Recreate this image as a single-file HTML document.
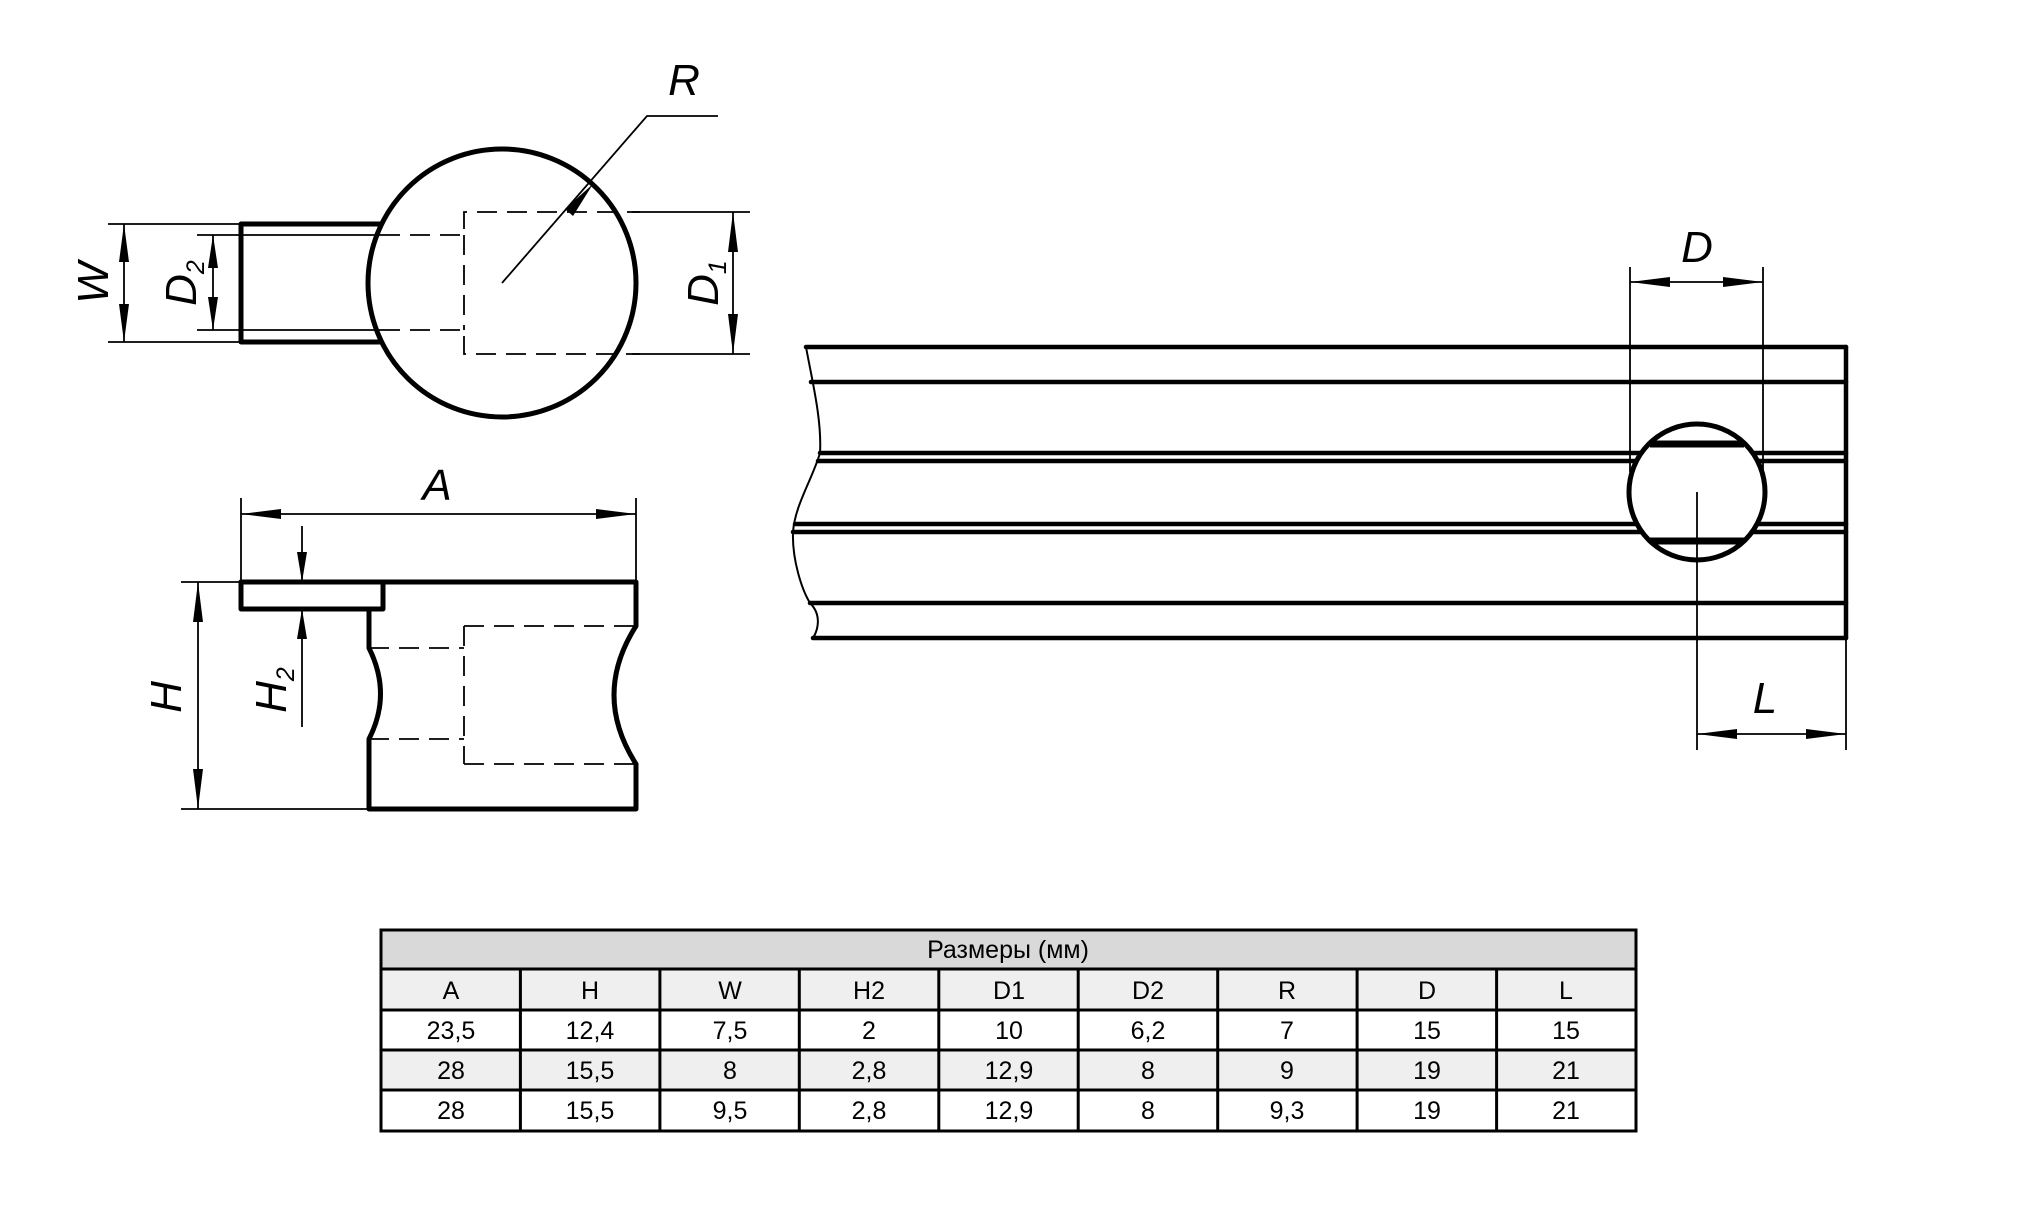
<!DOCTYPE html>
<html><head><meta charset="utf-8"><style>
html,body{margin:0;padding:0;background:#fff;}
svg{display:block;}
.k{stroke:#000;stroke-width:5;fill:none;stroke-linejoin:round;stroke-linecap:round}
.t{stroke:#000;stroke-width:1.8;fill:none}
.d{stroke:#000;stroke-width:1.8;fill:none;stroke-dasharray:20,10}
.lb{font-family:"Liberation Sans",sans-serif;font-style:italic;font-size:44px;fill:#000;text-anchor:middle}
.sb{font-size:25px}
.tt{font-family:"Liberation Sans",sans-serif;font-size:25px;fill:#000;text-anchor:middle}
</style></head><body>
<svg width="2020" height="1212" viewBox="0 0 2020 1212" xmlns="http://www.w3.org/2000/svg">
<circle cx="502" cy="283" r="134" class="k"/>
<path class="k" d="M380 224 L241 224 L241 342 L380 342"/>
<line class="t" x1="197" y1="235" x2="380" y2="235"/>
<line class="t" x1="197" y1="330" x2="380" y2="330"/>
<path class="d" d="M380 235 H464 V212 H640"/>
<path class="d" d="M380 330 H464 V354 H640"/>
<line class="d" x1="464" y1="235" x2="464" y2="330"/>
<line class="t" x1="632" y1="212" x2="750" y2="212"/>
<line class="t" x1="632" y1="354" x2="750" y2="354"/>
<line class="t" x1="108" y1="224" x2="241" y2="224"/>
<line class="t" x1="108" y1="342" x2="241" y2="342"/>
<line class="t" x1="124" y1="224" x2="124" y2="342"/>
<polygon points="124,224 119,262 129,262"/><polygon points="124,342 119,304 129,304"/>
<line class="t" x1="213" y1="235" x2="213" y2="330"/>
<polygon points="213,235 208,268 218,268"/><polygon points="213,330 208,297 218,297"/>
<line class="t" x1="733" y1="212" x2="733" y2="354"/>
<polygon points="733,212 728,252 738,252"/><polygon points="733,354 728,314 738,314"/>
<path class="t" d="M502 283 L647 116 H718"/>
<polygon points="593,184 573,216 565,209"/>
<text class="lb" transform="translate(92,283) rotate(-90)" dy="16">W</text>
<text class="lb" transform="translate(180,283) rotate(-90)" dy="16">D<tspan class="sb" dy="8">2</tspan></text>
<text class="lb" transform="translate(702,283) rotate(-90)" dy="16">D<tspan class="sb" dy="8">1</tspan></text>
<text class="lb" x="684" y="95">R</text>

<line class="t" x1="241" y1="498" x2="241" y2="582"/>
<line class="t" x1="636" y1="498" x2="636" y2="582"/>
<line class="t" x1="241" y1="514" x2="636" y2="514"/>
<polygon points="241,514 281,509 281,519"/><polygon points="636,514 596,509 596,519"/>
<text class="lb" x="437" y="500">A</text>
<path class="k" d="M241 582 H636 V626 Q592 695 636 764 V809 H369 V739 Q392 694 369 648 V609"/>
<rect class="k" x="241" y="582" width="142" height="27"/>
<path class="d" d="M369 648 H464 M369 739 H464 M464 626 V764 M464 626 H636 M464 764 H636"/>
<line class="t" x1="181" y1="582" x2="241" y2="582"/>
<line class="t" x1="181" y1="809" x2="369" y2="809"/>
<line class="t" x1="198" y1="582" x2="198" y2="809"/>
<polygon points="198,582 193,622 203,622"/><polygon points="198,809 193,769 203,769"/>
<line class="t" x1="302" y1="526" x2="302" y2="582"/>
<line class="t" x1="302" y1="609" x2="302" y2="727"/>
<polygon points="302,582 297,552 307,552"/><polygon points="302,609 297,639 307,639"/>
<text class="lb" transform="translate(165,697) rotate(-90)" dy="16">H</text>
<text class="lb" transform="translate(270,690) rotate(-90)" dy="16">H<tspan class="sb" dy="8">2</tspan></text>

<g class="k" style="stroke-width:4.5">
<line x1="806" y1="347" x2="1846" y2="347"/>
<line x1="811" y1="382" x2="1846" y2="382"/>
<line x1="820" y1="453" x2="1846" y2="453"/>
<line x1="818" y1="461" x2="1846" y2="461"/>
<line x1="795" y1="524" x2="1846" y2="524"/>
<line x1="793" y1="532" x2="1846" y2="532"/>
<line x1="810" y1="603" x2="1846" y2="603"/>
<line x1="813" y1="638" x2="1846" y2="638"/>
<line x1="1846" y1="347" x2="1846" y2="638"/>
</g>
<path class="t" style="stroke-width:2" d="M806 347 C812 380 822 420 820 453 C812 480 795 505 793 532 C792 560 802 590 810 603 C822 615 818 630 813 638"/>
<circle cx="1697" cy="492" r="70" fill="#fff" stroke="none"/>
<line x1="1650" y1="444" x2="1744" y2="444" stroke="#000" stroke-width="7"/>
<line x1="1650" y1="541" x2="1744" y2="541" stroke="#000" stroke-width="7"/>
<circle cx="1697" cy="492" r="68" class="k"/>
<line class="t" x1="1697" y1="492" x2="1697" y2="750"/>
<line class="t" x1="1630" y1="267" x2="1630" y2="472"/>
<line class="t" x1="1763" y1="267" x2="1763" y2="472"/>
<line class="t" x1="1630" y1="282" x2="1763" y2="282"/>
<polygon points="1630,282 1670,277 1670,287"/><polygon points="1763,282 1723,277 1723,287"/>
<text class="lb" x="1697" y="262">D</text>
<line class="t" x1="1846" y1="638" x2="1846" y2="750"/>
<line class="t" x1="1697" y1="734" x2="1846" y2="734"/>
<polygon points="1697,734 1737,729 1737,739"/><polygon points="1846,734 1806,729 1806,739"/>
<text class="lb" x="1765" y="713">L</text>

<rect x="381" y="930" width="1255" height="39" fill="#d9d9d9"/>
<rect x="381" y="969" width="1255" height="41" fill="#efefef"/>
<rect x="381" y="1050" width="1255" height="40" fill="#efefef"/>
<g stroke="#000" stroke-width="3" fill="none">
<rect x="381" y="930" width="1255" height="201"/>
<line x1="381" y1="969" x2="1636" y2="969"/>
<line x1="381" y1="1010" x2="1636" y2="1010"/>
<line x1="381" y1="1050" x2="1636" y2="1050"/>
<line x1="381" y1="1090" x2="1636" y2="1090"/>
<line x1="520.4" y1="969" x2="520.4" y2="1131"/>
<line x1="659.9" y1="969" x2="659.9" y2="1131"/>
<line x1="799.3" y1="969" x2="799.3" y2="1131"/>
<line x1="938.8" y1="969" x2="938.8" y2="1131"/>
<line x1="1078.2" y1="969" x2="1078.2" y2="1131"/>
<line x1="1217.7" y1="969" x2="1217.7" y2="1131"/>
<line x1="1357.1" y1="969" x2="1357.1" y2="1131"/>
<line x1="1496.6" y1="969" x2="1496.6" y2="1131"/>
</g>
<g class="tt">
<text x="1008" y="958">Размеры (мм)</text>
<text x="451" y="999">A</text><text x="590" y="999">H</text><text x="730" y="999">W</text><text x="869" y="999">H2</text><text x="1009" y="999">D1</text><text x="1148" y="999">D2</text><text x="1287" y="999">R</text><text x="1427" y="999">D</text><text x="1566" y="999">L</text>
<text x="451" y="1039">23,5</text><text x="590" y="1039">12,4</text><text x="730" y="1039">7,5</text><text x="869" y="1039">2</text><text x="1009" y="1039">10</text><text x="1148" y="1039">6,2</text><text x="1287" y="1039">7</text><text x="1427" y="1039">15</text><text x="1566" y="1039">15</text>
<text x="451" y="1079">28</text><text x="590" y="1079">15,5</text><text x="730" y="1079">8</text><text x="869" y="1079">2,8</text><text x="1009" y="1079">12,9</text><text x="1148" y="1079">8</text><text x="1287" y="1079">9</text><text x="1427" y="1079">19</text><text x="1566" y="1079">21</text>
<text x="451" y="1119">28</text><text x="590" y="1119">15,5</text><text x="730" y="1119">9,5</text><text x="869" y="1119">2,8</text><text x="1009" y="1119">12,9</text><text x="1148" y="1119">8</text><text x="1287" y="1119">9,3</text><text x="1427" y="1119">19</text><text x="1566" y="1119">21</text>
</g>
</svg>
</body></html>
